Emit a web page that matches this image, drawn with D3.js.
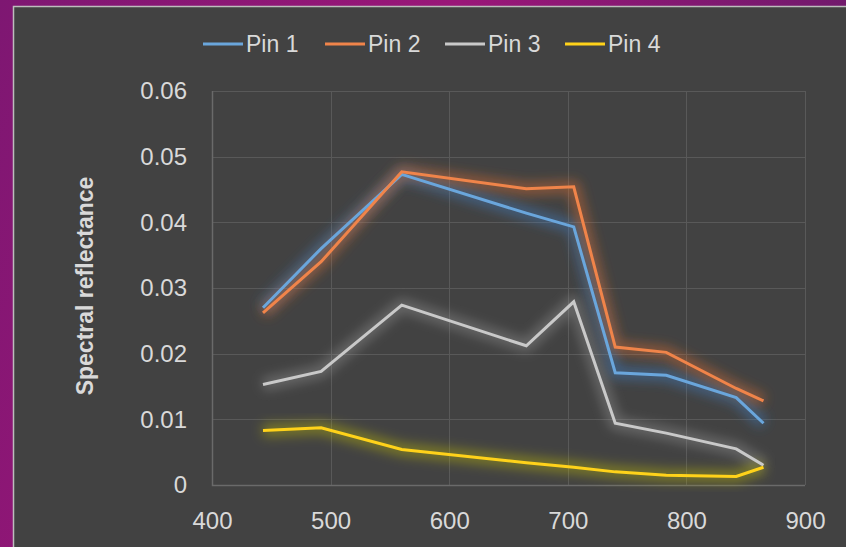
<!DOCTYPE html>
<html><head><meta charset="utf-8">
<script src="https://cdn.jsdelivr.net/npm/d3@7/dist/d3.min.js"></script>
<style>html,body{margin:0;padding:0;background:#7a166e;}svg{display:block;}</style>
</head><body>
<svg id="chart" width="846" height="547"></svg>
<script>
const wavelengths = [443, 492, 560, 665, 705, 740, 783, 842, 865];
const pin1 = [0.0270, 0.0360, 0.0473, 0.0414, 0.0393, 0.0171, 0.0167, 0.0133, 0.0094];
const pin2 = [0.0262, 0.0340, 0.0477, 0.0451, 0.0454, 0.0210, 0.0202, 0.0147, 0.0128];
const pin3 = [0.0153, 0.0173, 0.0274, 0.0212, 0.0279, 0.0094, 0.0079, 0.0055, 0.0030];
const pin4 = [0.0083, 0.0087, 0.0054, 0.0034, 0.0027, 0.0020, 0.0015, 0.0013, 0.0027];
const seriesNames = ["Pin 1", "Pin 2", "Pin 3", "Pin 4"];
const seriesColors = ["#6aa6dc", "#f0844a", "#c9c9c9", "#ffd21a"];
const glowColors = ["#3f86d0", "#e8702a", "#9a9a9a", "#c8c400"];
const xTicks = [400, 500, 600, 700, 800, 900];
const yTicks = [0, 0.01, 0.02, 0.03, 0.04, 0.05, 0.06];
const yTitle = "Spectral reflectance";

const seriesData = [pin1, pin2, pin3, pin4];
const svg = d3.select("#chart");
const W = 846, H = 547;
const m = {left: 212, right: 805, top: 91, bottom: 485};

const defs = svg.append("defs");
const bg = defs.append("linearGradient").attr("id", "bgGrad")
  .attr("x1", "0").attr("y1", "0").attr("x2", "1").attr("y2", "0.3");
bg.append("stop").attr("offset", "0").attr("stop-color", "#7e1772");
bg.append("stop").attr("offset", "0.5").attr("stop-color", "#9a1678");
bg.append("stop").attr("offset", "1").attr("stop-color", "#6a1a6a");
const glow = defs.append("filter").attr("id", "glow")
  .attr("x", "-20%").attr("y", "-30%").attr("width", "140%").attr("height", "160%");
glow.append("feGaussianBlur").attr("stdDeviation", 6);

svg.append("rect").attr("width", W).attr("height", H).attr("fill", "url(#bgGrad)");
svg.append("rect").attr("x", 13).attr("y", 6).attr("width", W - 13).attr("height", H - 6)
  .attr("fill", "#424242");
svg.append("path").attr("d", `M13.5,${H}V6.5H${W}`).attr("fill", "none")
  .attr("stroke", "#bdbdbd").attr("stroke-width", 1.5);

const x = d3.scaleLinear().domain([400, 900]).range([m.left, m.right]);
const y = d3.scaleLinear().domain([0, 0.06]).range([m.bottom, m.top]);

// gridlines
const grid = svg.append("g");
grid.selectAll("line.h").data(yTicks).join("line")
  .attr("x1", m.left).attr("x2", m.right)
  .attr("y1", d => Math.round(y(d)) + 0.5).attr("y2", d => Math.round(y(d)) + 0.5)
  .attr("stroke", "#595959").attr("stroke-width", 1);
grid.selectAll("line.v").data(xTicks).join("line")
  .attr("y1", m.top).attr("y2", m.bottom)
  .attr("x1", d => Math.round(x(d)) + 0.5).attr("x2", d => Math.round(x(d)) + 0.5)
  .attr("stroke", "#595959").attr("stroke-width", 1);
svg.append("path").attr("d", `M${m.left + 0.5},${m.top}V${m.bottom + 0.5}H${m.right}`)
  .attr("fill", "none").attr("stroke", "#6a6a6a").attr("stroke-width", 1.5);

const font = "'Liberation Sans', Arial, sans-serif";
// axes
const xAxis = d3.axisBottom(x).tickValues(xTicks).tickSize(0).tickPadding(27).tickFormat(d3.format("d"));
const gx = svg.append("g").attr("transform", `translate(0,${m.bottom})`).call(xAxis);
gx.select(".domain").remove();
gx.selectAll("text").attr("fill", "#d9d9d9").style("font-family", font).style("font-size", "24px");

const yAxis = d3.axisLeft(y).tickValues(yTicks).tickSize(0).tickPadding(25)
  .tickFormat(d => d === 0 ? "0" : d3.format(".2f")(d));
const gy = svg.append("g").attr("transform", `translate(${m.left},0)`).call(yAxis);
gy.select(".domain").remove();
gy.selectAll("text").attr("fill", "#d9d9d9").style("font-family", font).style("font-size", "24px");

svg.append("text").attr("transform", `translate(93,286) rotate(-90)`)
  .attr("text-anchor", "middle").attr("fill", "#d9d9d9")
  .style("font-family", font).style("font-size", "23px").style("font-weight", "bold")
  .text(yTitle);

// lines
const line = d3.line().x((d, i) => x(wavelengths[i])).y(d => y(d));
const lg = svg.append("g");
seriesData.forEach((s, k) => {
  lg.append("path").datum(s).attr("d", line).attr("fill", "none")
    .attr("stroke", glowColors[k]).attr("stroke-width", 12).attr("stroke-opacity", 0.45)
    .attr("stroke-linejoin", "round").attr("filter", "url(#glow)");
});
seriesData.forEach((s, k) => {
  lg.append("path").datum(s).attr("d", line).attr("fill", "none")
    .attr("stroke", seriesColors[k]).attr("stroke-width", 3)
    .attr("stroke-linejoin", "miter");
});

// legend
const legX = [203, 325, 445, 565];
const leg = svg.append("g");
seriesNames.forEach((n, k) => {
  const g = leg.append("g").attr("transform", `translate(${legX[k]},44)`);
  g.append("line").attr("x1", 0).attr("x2", 40).attr("y1", 0).attr("y2", 0)
    .attr("stroke", glowColors[k]).attr("stroke-width", 7).attr("stroke-opacity", 0.5)
    .attr("filter", "url(#glow)");
  g.append("line").attr("x1", 0).attr("x2", 40).attr("y1", 0).attr("y2", 0)
    .attr("stroke", seriesColors[k]).attr("stroke-width", 3);
  g.append("text").attr("x", 43).attr("y", 0).attr("dy", "0.35em")
    .attr("fill", "#d9d9d9").style("font-family", font).style("font-size", "23px").text(n);
});
</script>
</body></html>
